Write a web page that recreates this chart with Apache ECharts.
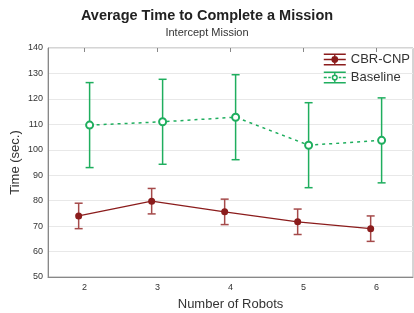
<!DOCTYPE html>
<html>
<head>
<meta charset="utf-8">
<script src="https://cdn.jsdelivr.net/npm/echarts@6/dist/echarts.min.js"></script>
<style>
  html, body { margin: 0; padding: 0; background: #fff; }
  #main { width: 414px; height: 313px; }
</style>
</head>
<body>
<div id="main"></div>
<script>
var robots = [2, 3, 4, 5, 6]
var cbrMean = [74.0, 79.8, 75.6, 71.7, 69.0]
var cbrErr = [5.0, 5.0, 5.0, 5.0, 5.0]
var baseMean = [109.7, 111.0, 112.8, 101.8, 103.7]
var baseErr = [16.7, 16.7, 16.7, 16.7, 16.7]
var yTicks = [50, 60, 70, 80, 90, 100, 110, 120, 130, 140]

var red = '#8b1c1c'
var redBar = '#a54a4a'
var green = '#1fae5e'

// error-bar legend icons
var iconSolid = 'path://M0,0L22,0L22,1.5L11.7,1.5L11.7,5.25L22,5.25L22,6.75L11.7,6.75L11.7,10.5L22,10.5L22,12L0,12L0,10.5L10.3,10.5L10.3,6.75L0,6.75L0,5.25L10.3,5.25L10.3,1.5L0,1.5Z' +
  'M11,2.6A3.4,3.4,0,1,1,10.99,2.6Z'
var iconHollow = 'path://M0,0L22,0L22,1.5L11.7,1.5L11.7,3.3L10.3,3.3L10.3,1.5L0,1.5ZM0,10.5L10.3,10.5L10.3,8.7L11.7,8.7L11.7,10.5L22,10.5L22,12L0,12Z' +
  'M0,5.25L3,5.25L3,6.75L0,6.75ZM4.5,5.25L7,5.25L7,6.75L4.5,6.75ZM15,5.25L17.5,5.25L17.5,6.75L15,6.75ZM19,5.25L22,5.25L22,6.75L19,6.75Z' +
  'M11,2.9A3.1,3.1,0,1,1,10.99,2.9ZM11,4.4A1.6,1.6,0,1,0,11.01,4.4Z'

function pts(means, off) {
  return robots.map(function (r, i) { return [r + off, means[i]] })
}
function bars(means, errs, off) {
  return robots.map(function (r, i) { return [r + off, means[i] - errs[i], means[i] + errs[i]] })
}
function errorBar(color) {
  return function (params, api) {
    var lo = api.coord([api.value(0), api.value(1)])
    var hi = api.coord([api.value(0), api.value(2)])
    var w = 4
    var st = { stroke: color, lineWidth: 1.5 }
    return {
      type: 'group',
      children: [
        { type: 'line', shape: { x1: lo[0], y1: lo[1], x2: hi[0], y2: hi[1] }, style: st },
        { type: 'line', shape: { x1: lo[0] - w, y1: lo[1], x2: lo[0] + w, y2: lo[1] }, style: st },
        { type: 'line', shape: { x1: hi[0] - w, y1: hi[1], x2: hi[0] + w, y2: hi[1] }, style: st }
      ]
    }
  }
}

var Chart = echarts.init(document.getElementById('main'))
var option = {
  animation: false,
  backgroundColor: '#fff',
  title: {
    text: 'Average Time to Complete a Mission',
    subtext: 'Intercept Mission',
    left: 'center',
    top: 3,
    itemGap: 4,
    textStyle: { fontFamily: 'Liberation Sans', fontSize: 14.5, fontWeight: 'bold', color: '#222' },
    subtextStyle: { fontFamily: 'Liberation Sans', fontSize: 11, color: '#333' }
  },
  legend: {
    right: 4,
    top: 53,
    padding: 0,
    orient: 'vertical',
    itemWidth: 22,
    itemHeight: 12,
    itemGap: 5,
    textStyle: { fontFamily: 'Liberation Sans', fontSize: 13, color: '#333' },
    data: [
      { name: 'CBR-CNP', icon: iconSolid, itemStyle: { color: red } },
      { name: 'Baseline', icon: iconHollow, itemStyle: { color: green } }
    ]
  },
  grid: {
    left: 48, right: 1, top: 48, bottom: 36,
    outerBoundsMode: 'none',
    show: true, borderColor: '#aaa', borderWidth: 1
  },
  xAxis: [
    {
      type: 'value', min: 1.5, max: 6.5,
      name: 'Number of Robots', nameLocation: 'middle', nameGap: 21,
      nameTextStyle: { fontFamily: 'Liberation Sans', fontSize: 13, color: '#333' },
      axisLine: { lineStyle: { color: '#888' } },
      axisTick: { show: false },
      splitLine: { show: false },
      axisLabel: {
        fontFamily: 'Liberation Sans', fontSize: 9, color: '#333', margin: 6,
        customValues: robots
      }
    },
    {
      type: 'value', min: 1.5, max: 6.5, position: 'top',
      axisLine: { show: false },
      axisTick: { show: true, inside: true, length: 4, lineStyle: { color: '#888' }, customValues: robots },
      axisLabel: { show: false },
      splitLine: { show: false }
    }
  ],
  yAxis: {
    type: 'value', min: 50, max: 140, interval: 10,
    name: 'Time (sec.)', nameLocation: 'middle', nameGap: 26, nameMoveOverlap: false,
    nameTextStyle: { fontFamily: 'Liberation Sans', fontSize: 13, color: '#333' },
    axisLine: { show: true, lineStyle: { color: '#888' } },
    axisTick: { show: false },
    axisLabel: { fontFamily: 'Liberation Sans', fontSize: 9, color: '#333', margin: 5, customValues: yTicks },
    splitLine: { lineStyle: { color: '#e8e8e8' } }
  },
  series: [
    {
      name: 'CBR-CNP', type: 'custom', renderItem: errorBar(redBar),
      data: bars(cbrMean, cbrErr, -0.08), z: 2
    },
    {
      name: 'Baseline', type: 'custom', renderItem: errorBar(green),
      data: bars(baseMean, baseErr, 0.07), z: 2
    },
    {
      name: 'CBR-CNP', type: 'line', data: pts(cbrMean, -0.08),
      symbol: 'circle', symbolSize: 7,
      lineStyle: { color: red, width: 1.3 },
      itemStyle: { color: red }, z: 3
    },
    {
      name: 'Baseline', type: 'line', data: pts(baseMean, 0.07),
      symbol: 'emptyCircle', symbolSize: 7,
      lineStyle: { color: green, width: 1.5, type: [3, 4] },
      itemStyle: { color: green, borderWidth: 1.5 }, z: 3
    }
  ]
}
Chart.setOption(option)
</script>
</body>
</html>
